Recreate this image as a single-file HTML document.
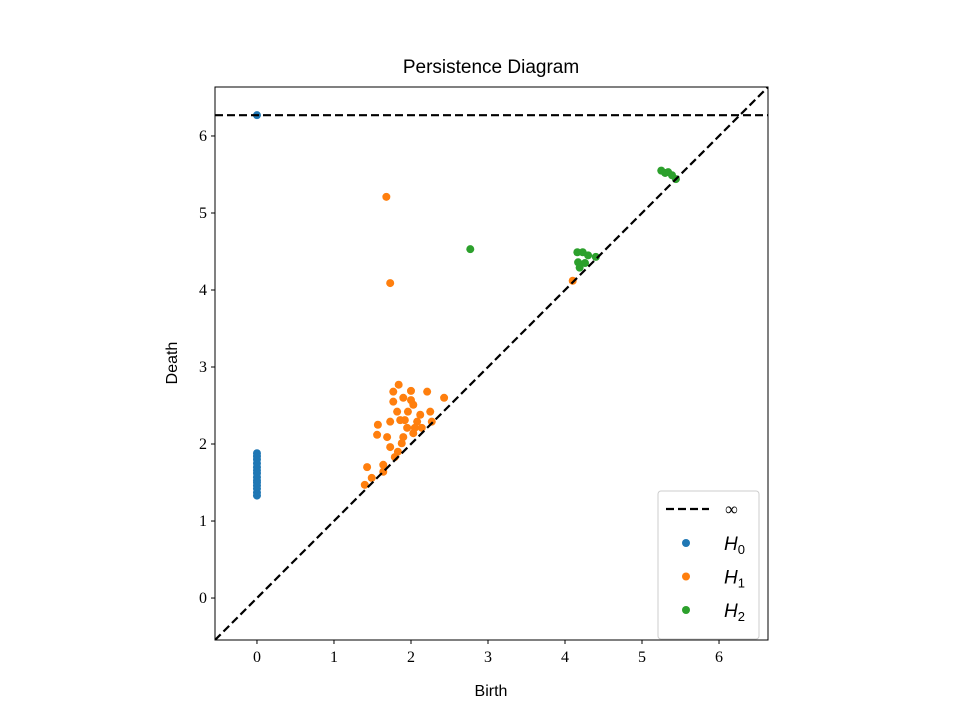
<!DOCTYPE html>
<html><head><meta charset="utf-8"><style>
body{margin:0;background:#fff}
svg text{font-family:"Liberation Serif",serif;fill:#000}
svg text.sans{font-family:"Liberation Sans",sans-serif}
</style></head><body>
<svg id="c" width="960" height="720" xmlns="http://www.w3.org/2000/svg"></svg>
<script>
const h0Birth=[0,0,0,0,0,0,0,0,0,0,0,0,0,0,0];
const h0Death=[6.27,1.33,1.37,1.42,1.46,1.50,1.53,1.57,1.62,1.66,1.70,1.75,1.80,1.84,1.88];
const h1Birth=[1.84,1.77,2.00,2.21,2.43,1.90,1.77,2.03,1.82,1.96,2.25,1.73,1.92,2.08,2.27,1.57,1.95,2.14,1.56,1.69,1.90,2.03,1.88,1.73,1.83,1.79,1.43,1.64,1.64,1.40,1.49,2.00,1.86,2.12,2.05,1.68,1.73,4.10];
const h1Death=[2.77,2.68,2.69,2.68,2.60,2.60,2.55,2.51,2.42,2.42,2.42,2.29,2.31,2.29,2.29,2.25,2.21,2.21,2.12,2.09,2.09,2.14,2.01,1.96,1.90,1.83,1.70,1.73,1.64,1.47,1.56,2.57,2.31,2.38,2.21,5.21,4.09,4.12];
const h2Birth=[2.77,4.16,4.23,4.17,4.19,4.30,4.40,4.26,5.25,5.34,5.39,5.44,5.30];
const h2Death=[4.53,4.49,4.49,4.36,4.29,4.45,4.43,4.35,5.55,5.53,5.49,5.44,5.52];
const infValue=6.27;
const ticks=[0,1,2,3,4,5,6];
const dMin=-0.545,dMax=6.636;
const L=215,R=768,T=87,B=640;
const sx=v=>L+(v-dMin)/(dMax-dMin)*(R-L);
const sy=v=>B-(v-dMin)/(dMax-dMin)*(B-T);
const svg=document.getElementById('c');
const NS='http://www.w3.org/2000/svg';
function mk(tag,attrs,parent){const e=document.createElementNS(NS,tag);for(const k in attrs)e.setAttribute(k,attrs[k]);(parent||svg).appendChild(e);return e;}
let e;
e=mk('text',{x:491,y:73,'text-anchor':'middle','font-size':'19',class:'sans'});e.textContent='Persistence Diagram';


e=mk('text',{x:491,y:696,'text-anchor':'middle','font-size':'16',class:'sans'});e.textContent='Birth';


e=mk('text',{x:177,y:363,'text-anchor':'middle','font-size':'16',class:'sans',transform:'rotate(-90 177 363)'});e.textContent='Death';


ticks.forEach(t=>{
  mk('line',{x1:sx(t),x2:sx(t),y1:B,y2:B+4,stroke:'#000','stroke-width':1});
  e=mk('text',{x:sx(t),y:B+22,'text-anchor':'middle','font-size':'16'});e.textContent=t;
  
  
  mk('line',{x1:L-4,x2:L,y1:sy(t),y2:sy(t),stroke:'#000','stroke-width':1});
  e=mk('text',{x:L-8,y:sy(t)+5,'text-anchor':'end','font-size':'16'});e.textContent=t;
  
  
});
const g=mk('g',{});
mk('clipPath',{id:'cp'},g);
mk('rect',{x:L,y:T,width:R-L,height:B-T},g.firstChild);
const pg=mk('g',{'clip-path':'url(#cp)'});
function pts(bx,dy,col,name){bx.forEach((b,i)=>{const c=mk('circle',{cx:sx(b),cy:sy(dy[i]),r:4,fill:col},pg);

});}
pts(h0Birth,h0Death,'#1f77b4','h0-point');
pts(h1Birth,h1Death,'#ff7f0e','h1-point');
pts(h2Birth,h2Death,'#2ca02c','h2-point');
e=mk('line',{x1:sx(dMin),y1:sy(dMin),x2:sx(dMax),y2:sy(dMax),stroke:'#000','stroke-width':2.2,'stroke-dasharray':'8,4'},pg);


e=mk('line',{x1:L,y1:sy(infValue),x2:R,y2:sy(infValue),stroke:'#000','stroke-width':2.2,'stroke-dasharray':'8,4'},pg);


e=mk('rect',{x:L,y:T,width:R-L,height:B-T,fill:'none',stroke:'#000','stroke-width':1});


const lg=mk('g',{});


mk('rect',{x:658,y:491,width:101,height:148,rx:3,fill:'#fff',stroke:'#ccc','stroke-width':1},lg);
mk('line',{x1:666,x2:709,y1:509,y2:509,stroke:'#000','stroke-width':2.2,'stroke-dasharray':'8,4'},lg);
e=mk('text',{x:725,y:515,'font-size':'18'},lg);e.textContent='∞';
const cols=['#1f77b4','#ff7f0e','#2ca02c'];
[0,1,2].forEach(i=>{const y=543+i*33.5;
mk('circle',{cx:686,cy:y,r:4,fill:cols[i]},lg);
e=mk('text',{x:724,y:y+7,'font-size':'19','font-style':'italic',class:'sans'},lg);
e.innerHTML='H<tspan font-size="13" dy="4" font-style="normal">'+i+'</tspan>';

});
</script>
</body></html>
